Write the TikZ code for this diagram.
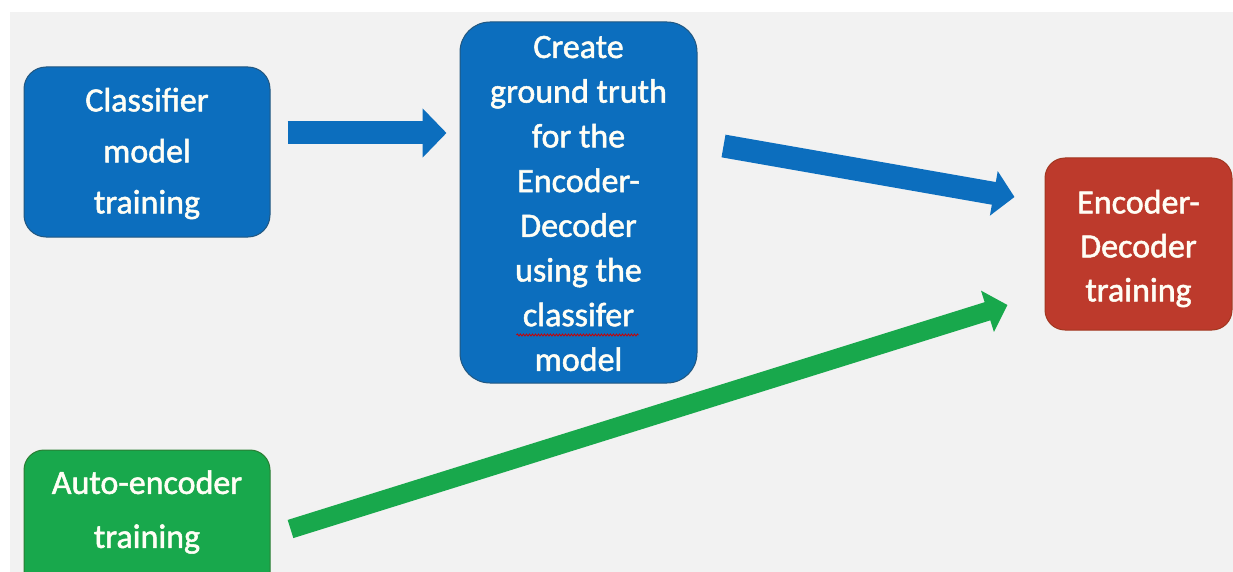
\documentclass[tikz,border=0pt]{standalone}
\usepackage{fontspec}
\setmainfont{Carlito}[BoldFont=Carlito, BoldFeatures={FakeBold=1.5}]
\usetikzlibrary{arrows.meta,decorations.pathmorphing}
\definecolor{bg}{RGB}{242,242,242}
\definecolor{boxblue}{RGB}{12,110,190}
\definecolor{boxgreen}{RGB}{24,168,76}
\definecolor{boxred}{RGB}{189,58,44}
\tikzset{
  card/.style={rounded corners=22pt, inner sep=0pt, line width=1pt},
  cardtext/.style={text=white!96!yellow, align=center, inner sep=0pt},
  bluecard/.style={card, fill=boxblue, draw=boxblue!75!black!90!orange},
  greencard/.style={card, fill=boxgreen, draw=boxgreen!75!black!90!orange},
  redcard/.style={card, fill=boxred, draw=boxred!80!black!90!orange},
  fatarrow/.style={line width=23pt, -{Triangle[length=24pt,width=48pt]}},
}
\begin{document}
\begin{tikzpicture}[x=1pt,y=-1pt]
\useasboundingbox (0,0) rectangle (1233,572);
\clip (0,0) rectangle (1233,572);
\fill[white] (0,0) rectangle (1233,572);
\fill[bg] (10,12) rectangle (1233,572);

% boxes, each with its caption centred (and nudged) inside
\node[bluecard, minimum width=246pt, minimum height=170pt,
  label={[cardtext, font=\bfseries\fontsize{34}{51}\selectfont, yshift=-1.5pt]center:Classifier\\model\\training}]
  (cls) at (147,152) {};
\node[bluecard, rounded corners=30pt, minimum width=237pt, minimum height=361pt,
  label={[cardtext, font=\bfseries\fontsize{34}{44.7}\selectfont, yshift=-1pt]center:Create\\ground truth\\for the\\Encoder-\\Decoder\\using the\\classifer\\model}]
  (gt) at (578.5,202.5) {};
\node[redcard, rounded corners=20pt, minimum width=187pt, minimum height=172pt,
  label={[cardtext, font=\bfseries\fontsize{34}{44}\selectfont, yshift=-4.5pt]center:Encoder-\\Decoder\\training}]
  (ed) at (1138.5,244) {};
\node[greencard, rounded corners=20pt, minimum width=246pt, minimum height=150pt,
  label={[cardtext, font=\bfseries\fontsize{34}{54}\selectfont, yshift=13pt]center:Auto-encoder\\training}]
  (ae) at (147,525) {};

% spell-check squiggle under "classifer"
\draw[red!80!black, line width=0.8pt, decorate,
  decoration={snake, amplitude=1pt, segment length=3pt}]
  ([shift={(-62,132.5)}]gt.center) -- ([shift={(60,132.5)}]gt.center);

% connectors
\draw[fatarrow, draw=boxblue] ([shift={(17,-19)}]cls.east) -- ([shift={(-13,-69.5)}]gt.west);
\draw[fatarrow, draw=boxblue, -{Triangle[length=21pt,width=44pt]}]
  ([shift={(26,-56.5)}]gt.east) -- ([shift={(-30,-47)}]ed.west);
\draw[fatarrow, line width=19pt, draw=boxgreen, -{Triangle[length=21pt,width=42pt]}]
  ([shift={(20,4)}]ae.east) -- ([shift={(-37,61)}]ed.west);
\end{tikzpicture}
\end{document}
